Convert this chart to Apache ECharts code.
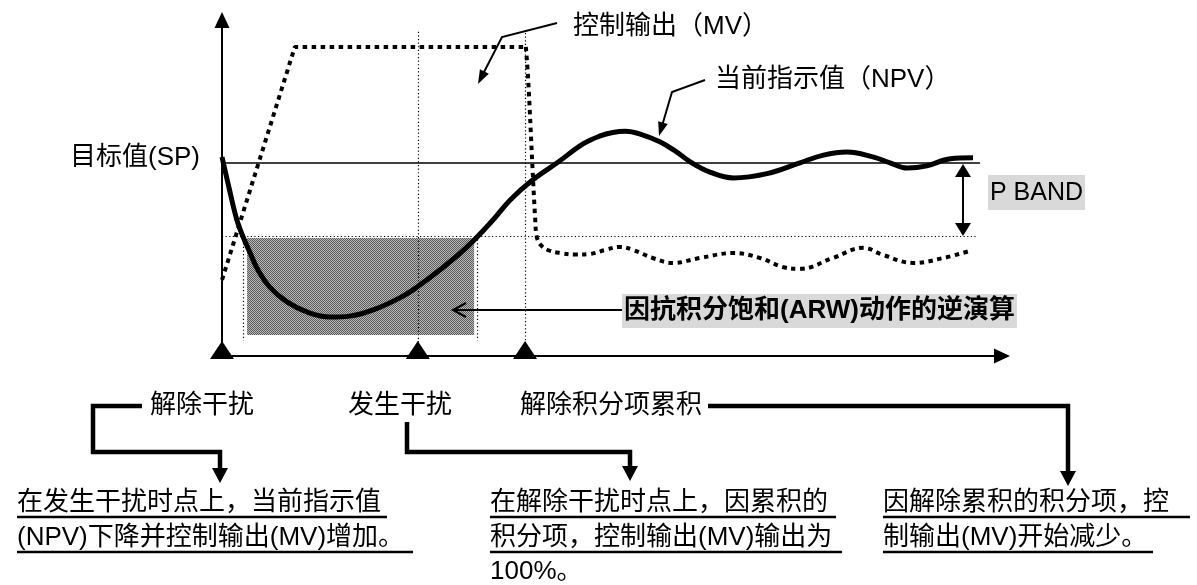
<!DOCTYPE html>
<html><head><meta charset="utf-8">
<script src="https://cdn.jsdelivr.net/npm/echarts@6/dist/echarts.min.js"></script>
<style>html,body{margin:0;padding:0;background:#fff}#c{width:1197px;height:585px}</style>
</head><body><div id="c"></div>
<script>
// ---- data (x: time units, y: % of MV range) ----
const npvT = [0,0.9,1.9,2.7,3.6,4.6,6.1,8.3,10.9,13.8,16.3,19.3,22.7,24.9,27.8,31.3,34.6,36.8,39.7,42.8,46.1,48.3,49.9,51.5,53.4,55.9,57.9,59.8,62.3,65.3,69.6,73.8,76.8,79.8,83.1,85.3,87.5,90.0,93.0,95.9];
const npvV = [64.4,54.4,44.0,38.5,33.3,27.8,22.3,17.5,14.2,12.6,12.9,14.9,18.8,22.3,27.8,35.3,44.0,50.5,57.0,62.5,68.6,71.2,72.3,72.7,71.8,69.3,66.3,62.8,59.5,57.6,59.0,62.5,65.0,66.0,64.4,62.5,60.8,61.5,63.8,64.1];
const mvRampT = [0, 9.3, 38.8];
const mvRampV = [24.6, 100, 100];
const mvDropT = [38.8,39.1,39.6,40.0,40.2,40.7,41.6,43.2,45.1,47.0,48.9,50.8,52.5,55.0,57.6,61.0,65.3,68.7,71.6,73.8,78.0,81.9,84.4,88.3,92.1,95.5];
const mvDropV = [100,89.3,63.4,44.0,38.5,35.9,34.3,33.3,32.8,33.0,34.3,35.3,34.3,31.7,30.1,31.7,33.3,31.7,28.8,28.2,31.7,35.0,32.7,30.1,31.7,34.0];
const setpoint = 62.5;
const pBandLow = 38.8;
const lineEnd = [96.8, 96.4];          // end of SP line, end of P band line
const eventTimes = [0, 25, 38.7];      // triangles on the time axis
const eventTop = [104.9, 104.5];       // top of dotted event lines (t=25, t=38.7)
const arwT = [3.2, 32.2];              // shaded ARW region, time span
const arwV = [6.8, 38.2];              // shaded ARW region, level span
const arwGuideT = [2.7, 32.6];         // small dotted guides
const arwGuideV = [4.9, 38.8];

const pair = (a, b) => a.map((t, i) => [t, b[i]]);
const FONT = "'Liberation Sans','Noto Sans CJK SC',sans-serif";

function checker() {
  const c = document.createElement('canvas'); c.width = 2; c.height = 2;
  const g = c.getContext('2d');
  g.fillStyle = '#b8b8b8'; g.fillRect(0, 0, 2, 2);
  g.fillStyle = '#5c5c5c'; g.fillRect(0, 0, 1, 1); g.fillRect(1, 1, 1, 1);
  return c;
}

const chart = echarts.init(document.getElementById('c'));
const dotted = {color: '#000', width: 1.2, type: [1.2, 2.4]};

// ---- annotation helpers (pixel space) ----
function txt(x, y, s, size, extra) {
  return {type: 'text', silent: true, z: 20,
    style: Object.assign({x: x, y: y, text: s, font: (extra && extra.bold ? 'bold ' : '') + size + 'px ' + FONT,
      fill: '#000', textAlign: 'left', textVerticalAlign: 'middle'}, extra && extra.style || {})};
}
function pl(points, w) {
  return {type: 'polyline', silent: true, z: 20, shape: {points: points},
    style: {stroke: '#000', lineWidth: w, fill: null, lineJoin: 'miter', lineCap: 'butt'}};
}
function head(tip, from, len, wid) {
  const dx = tip[0] - from[0], dy = tip[1] - from[1];
  const L = Math.hypot(dx, dy), ux = dx / L, uy = dy / L;
  const bx = tip[0] - ux * len, by = tip[1] - uy * len;
  return {type: 'polygon', silent: true, z: 21,
    shape: {points: [tip, [bx - uy * wid / 2, by + ux * wid / 2], [bx + uy * wid / 2, by - ux * wid / 2]]},
    style: {fill: '#000'}};
}

const graphics = [
  // labels
  txt(573, 27, '控制输出（MV）', 26),
  txt(715, 80, '当前指示值（NPV）', 26),
  txt(70, 158, '目标值(SP)', 26),
  {type: 'rect', silent: true, z: 19, shape: {x: 988, y: 175, width: 97, height: 35}, style: {fill: '#d9d9d9'}},
  txt(990, 193, 'P BAND', 25),
  txt(622, 311, '因抗积分饱和(ARW)动作的逆演算', 26, {bold: true,
    style: {backgroundColor: '#d9d9d9', padding: [4, 2, 4, 2]}}),
  txt(150, 406, '解除干扰', 26),
  txt(348, 406, '发生干扰', 26),
  txt(520, 406, '解除积分项累积', 26),
  txt(17, 503, '在发生干扰时点上，当前指示值', 26),
  txt(17, 538, '(NPV)下降并控制输出(MV)增加。', 26),
  txt(490, 503, '在解除干扰时点上，因累积的', 26),
  txt(490, 538, '积分项，控制输出(MV)输出为', 26),
  txt(490, 572, '100%。', 26),
  txt(883, 503, '因解除累积的积分项，控', 26),
  txt(883, 538, '制输出(MV)开始减少。', 26),
  // underlines
  pl([[17, 517], [387, 517]], 2.5), pl([[17, 552], [413, 552]], 2.5),
  pl([[490, 517], [836, 517]], 2.5), pl([[490, 552], [842, 552]], 2.5),
  pl([[883, 517], [1190, 517]], 2.5), pl([[883, 552], [1153, 552]], 2.5),
  // leaders
  pl([[557, 23], [502, 37], [483, 74]], 2), head([478, 84], [502, 37], 14, 10),
  pl([[705, 80], [672, 92], [662, 126]], 2), head([659, 136], [672, 92], 14, 10),
  pl([[622, 310], [454, 310]], 2), pl([[466, 303], [453, 310], [466, 317]], 2),
  // P band double arrow
  pl([[963, 175], [963, 224]], 2), head([963, 164], [963, 200], 13, 16), head([963, 236], [963, 200], 13, 16),
  // brackets
  pl([[142, 406], [93, 406], [93, 452], [220, 452], [220, 470]], 4.5), head([220, 483], [220, 452], 15, 16),
  pl([[407, 422], [407, 452], [630, 452], [630, 468]], 4.5), head([630, 481], [630, 452], 15, 16),
  pl([[708, 406], [1068, 406], [1068, 472]], 4.5), head([1068, 486], [1068, 406], 15, 16)
];

const axisCommon = {
  axisTick: {show: false}, axisLabel: {show: false}, splitLine: {show: false},
  axisLine: {show: true, symbol: ['none', 'triangle'], symbolSize: [15, 16], lineStyle: {color: '#000', width: 2}}
};

chart.setOption({
  animation: false,
  grid: {left: 222, top: 20, width: 780, height: 336},
  xAxis: Object.assign({type: 'value', min: 0, max: 99.6}, axisCommon),
  yAxis: Object.assign({type: 'value', min: 0, max: 108.7}, axisCommon),
  graphic: graphics,
  series: [
    {type: 'scatter', data: eventTimes.map(t => [t, 0]), symbol: 'triangle', symbolSize: [24, 18],
      symbolOffset: [0, -6], itemStyle: {color: '#000', opacity: 1}, clip: false, silent: true, z: 6,
      markArea: {silent: true, itemStyle: {color: {image: checker(), repeat: 'repeat'}, opacity: 1},
        data: [[{coord: [arwT[0], arwV[1]]}, {coord: [arwT[1], arwV[0]]}]]},
      markLine: {silent: true, symbol: ['none', 'none'], label: {show: false}, lineStyle: dotted,
        data: [
          [{coord: [eventTimes[1], eventTop[0]]}, {coord: [eventTimes[1], 0]}],
          [{coord: [eventTimes[2], eventTop[1]]}, {coord: [eventTimes[2], 0]}],
          [{coord: [arwGuideT[0], arwGuideV[1]]}, {coord: [arwGuideT[0], arwGuideV[0]]}],
          [{coord: [arwGuideT[1], arwGuideV[1]]}, {coord: [arwGuideT[1], arwGuideV[0]]}],
          [{coord: [0, pBandLow]}, {coord: [lineEnd[1], pBandLow]}],
          [{coord: [0, setpoint]}, {coord: [lineEnd[0], setpoint], lineStyle: {type: 'solid', width: 1.6}}]
        ]}},
    {type: 'line', data: pair(mvRampT, mvRampV), symbol: 'none', silent: true, z: 4,
      lineStyle: {color: '#000', width: 4, type: [4.5, 4.5], cap: 'butt'}},
    {type: 'line', data: pair(mvDropT, mvDropV), symbol: 'none', smooth: 0.4, silent: true, z: 4,
      lineStyle: {color: '#000', width: 4, type: [4.5, 4.5], cap: 'butt'}},
    {type: 'line', data: pair(npvT, npvV), symbol: 'none', smooth: 0.4, silent: true, z: 5,
      lineStyle: {color: '#000', width: 5}}
  ]
});
</script></body></html>
